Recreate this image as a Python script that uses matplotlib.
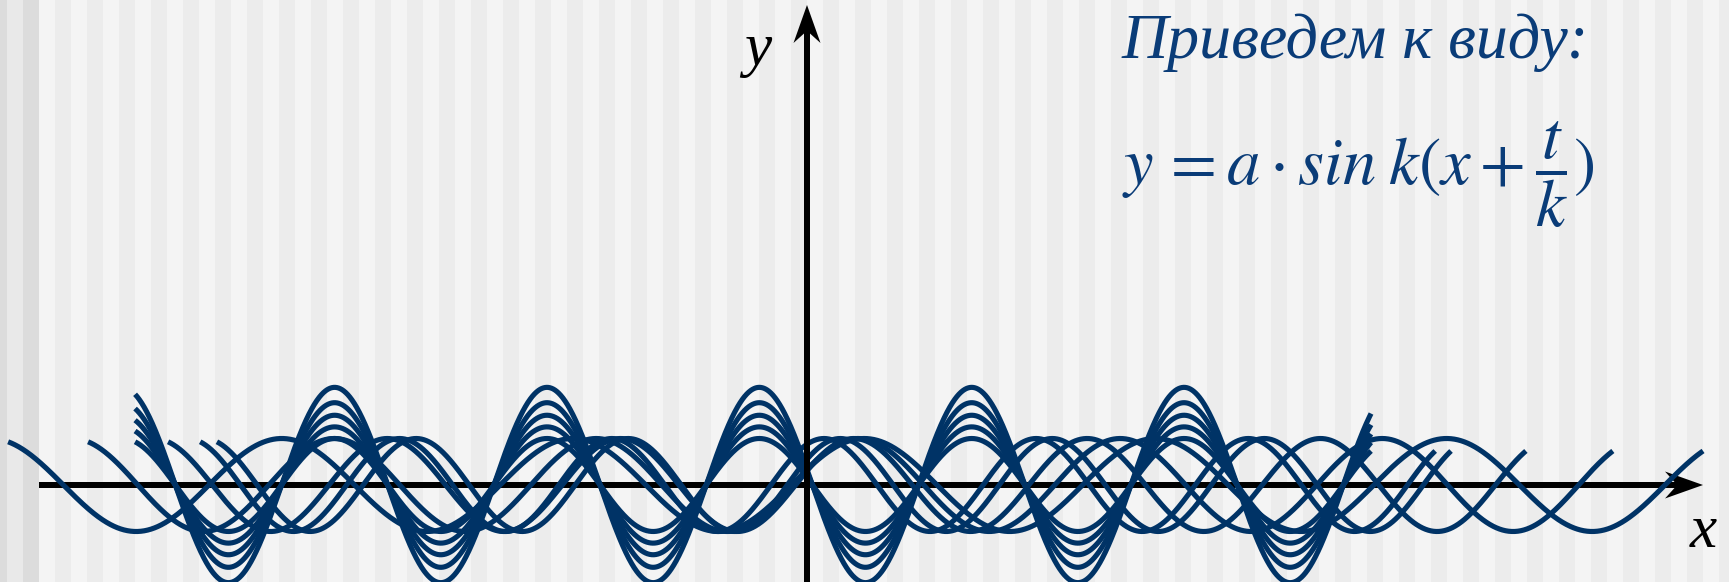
import numpy as np
import matplotlib.pyplot as plt

W, H = 1729, 582
ORIGIN = (807, 485)   # pixel position of (0, 0)
UNIT = 46.5           # pixels per unit, same on both axes

# every curve is y = a*sin(theta), theta runs PHASE_START -> PHASE_END over [x_start, x_end]
amplitudes = [1, 1, 1, 1, 1, 1.0, 1.25, 1.5, 1.77, 2.1]
x_starts = [-17.18, -15.46, -13.74, -12.69, -13.05, -14.45, -14.45, -14.45, -14.45, -14.45]
x_ends = [19.27, 17.33, 15.46, 13.85, 13.51, 12.13, 12.13, 12.13, 12.13, 12.13]
PHASE_START = 1.95
PHASE_END = 38.52

title = "Приведем к виду:"
formula = r"$y\,=a\cdot sin\;k(x+\dfrac{t}{k})$"

CURVE_COLOR = "#003366"
TEXT_COLOR = "#0a3c78"

plt.rcParams['mathtext.fontset'] = 'stix'

fig = plt.figure(figsize=(W / 100, H / 100), dpi=100)

# striped slide background
bg = fig.add_axes([0, 0, 1, 1])
cols = np.arange(W)
stripe = np.where(((cols - 39) // 16) % 2 == 0, 0xf4, 0xec).astype(float)
stripe[cols < 39] = 0xdc
stripe[(cols >= 7) & (cols < 23)] = 0xe9
img = np.repeat(stripe[None, :, None], 3, axis=2) / 255
bg.imshow(img, extent=[0, W, 0, H], aspect='auto', interpolation='nearest')
bg.axis('off')

ax = fig.add_axes([0, 0, 1, 1])
ax.patch.set_alpha(0)
ax.set_xlim(-ORIGIN[0] / UNIT, (W - ORIGIN[0]) / UNIT)
ax.set_ylim(-(H - ORIGIN[1]) / UNIT, ORIGIN[1] / UNIT)
ax.axis('off')

# x axis (under the curves)
x_left = (39 - ORIGIN[0]) / UNIT
x_tip = (1703 - ORIGIN[0]) / UNIT
ax.arrow(x_left, 0, x_tip - x_left, 0, width=6 / UNIT, head_width=27 / UNIT,
         head_length=38 / UNIT, overhang=0.25, length_includes_head=True,
         color='black', lw=0, zorder=2)

for a, x0, x1 in zip(amplitudes, x_starts, x_ends):
    x = np.linspace(x0, x1, 3000)
    theta = PHASE_START + (PHASE_END - PHASE_START) * (x - x0) / (x1 - x0)
    ax.plot(x, a * np.sin(theta), color=CURVE_COLOR, lw=3.7,
            solid_capstyle='butt', solid_joinstyle='round', zorder=3)

# y axis (over the curves)
y_bottom = -(H - ORIGIN[1]) / UNIT - 0.2
y_tip = (ORIGIN[1] - 5) / UNIT
ax.arrow(0, y_bottom, 0, y_tip - y_bottom, width=6 / UNIT, head_width=27 / UNIT,
         head_length=38 / UNIT, overhang=0.25, length_includes_head=True,
         color='black', lw=0, zorder=4)

label_font = dict(family='Liberation Serif', style='italic', fontsize=44, color='black')
ax.text((758 - ORIGIN[0]) / UNIT, (ORIGIN[1] - 65) / UNIT, 'y',
        ha='center', va='baseline', **label_font)
ax.text((1703 - ORIGIN[0]) / UNIT, (ORIGIN[1] - 547) / UNIT, 'x',
        ha='center', va='baseline', **label_font)

ax.text((1122 - ORIGIN[0]) / UNIT, (ORIGIN[1] - 58) / UNIT, title,
        family='Liberation Serif', style='italic', fontsize=46, color=TEXT_COLOR,
        ha='left', va='baseline')
ax.text((1122 - ORIGIN[0]) / UNIT, (ORIGIN[1] - 184) / UNIT, formula,
        fontsize=48, color=TEXT_COLOR, ha='left', va='baseline')

fig.savefig('out.png', dpi=100)
